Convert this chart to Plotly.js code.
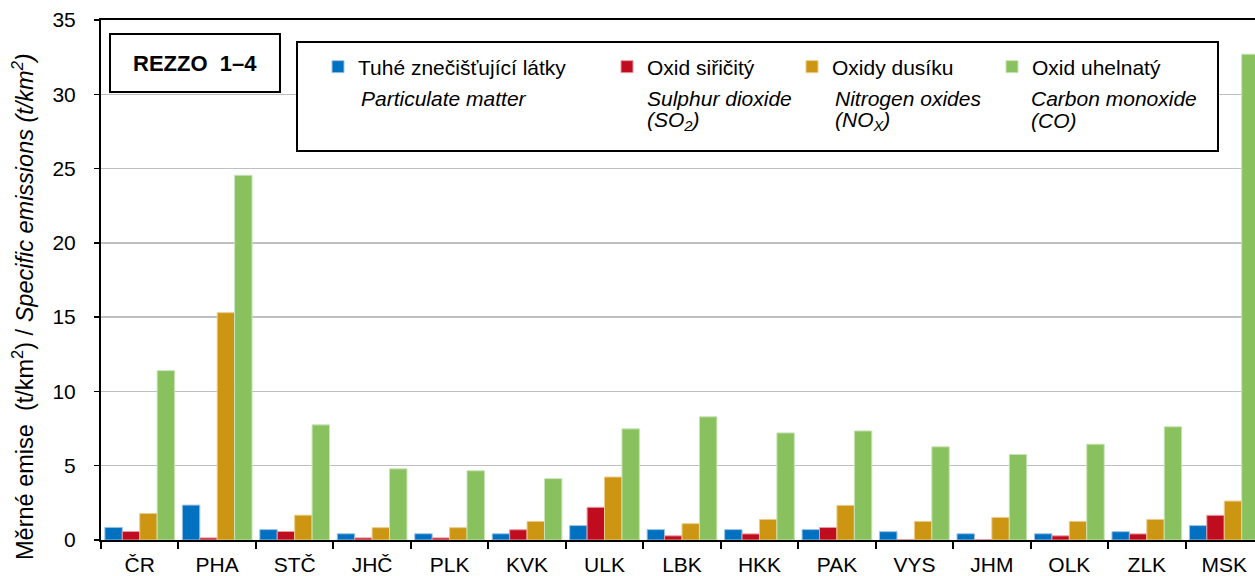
<!DOCTYPE html>
<html>
<head>
<meta charset="utf-8">
<script src="https://cdn.plot.ly/plotly-3.0.1.min.js"></script>
<style>
html, body { margin: 0; padding: 0; overflow: hidden; background: #fff; }
#chart { width: 1263px; height: 576px; }
</style>
</head>
<body>
<div id="chart"></div>
<script>
// ---- Data ----
var categories = ["ČR","PHA","STČ","JHČ","PLK","KVK","ULK","LBK","HKK","PAK","VYS","JHM","OLK","ZLK","MSK"];
var particulate = [0.85, 2.35, 0.70, 0.42, 0.42, 0.42, 0.97, 0.70, 0.70, 0.70, 0.56, 0.42, 0.42, 0.56, 0.97];
var sulphurDioxide = [0.57, 0.14, 0.57, 0.14, 0.14, 0.69, 2.20, 0.28, 0.41, 0.84, 0.03, 0.03, 0.28, 0.41, 1.66];
var nitrogenOxides = [1.78, 15.30, 1.67, 0.83, 0.83, 1.25, 4.24, 1.10, 1.38, 2.33, 1.25, 1.52, 1.25, 1.38, 2.62];
var carbonMonoxide = [11.40, 24.55, 7.75, 4.79, 4.66, 4.13, 7.48, 8.29, 7.21, 7.34, 6.27, 5.76, 6.45, 7.62, 32.70];

var namesCz = ["Tuhé znečišťující látky", "Oxid siřičitý", "Oxidy dusíku", "Oxid uhelnatý"];
var namesEn = ["Particulate matter", "Sulphur dioxide", "Nitrogen oxides", "Carbon monoxide"];
var namesEnSub = ["", "(SO<sub>2</sub>)", "(NO<sub>X</sub>)", "(CO)"];
var yTickValues = [0, 5, 10, 15, 20, 25, 30, 35];
var boxLabel = "REZZO\u00A0 1–4";
var yTitleCz = "Měrné emise\u00A0 (t/km<sup>2</sup>)";
var yTitleEn = "Specific emissions (t/km<sup>2</sup>)";

// ---- Styling ----
var colors = ["#0070C0", "#C00C1F", "#CC9612", "#88C15E"];
var edgeColors = ["#9CC3E6", "#E89AA2", "#EBCB8A", "#C9E3B6"];
var series = [particulate, sulphurDioxide, nitrogenOxides, carbonMonoxide];
var FONT = "Arial, 'Liberation Sans', sans-serif";

var W = 1263, H = 576, ML = 101, MR = 0, MT = 20, MB = 36;
var PW = W - ML - MR, PH = H - MT - MB;
function px(x) { return (x - ML) / PW; }
function py(y) { return (H - MB - y) / PH; }

var legendNames = ["legend", "legend2", "legend3", "legend4"];
var traces = series.map(function (vals, i) {
  return {
    type: "bar",
    x: categories,
    y: vals,
    name: namesCz[i],
    legend: legendNames[i],
    showlegend: true,
    marker: { color: colors[i], line: { color: edgeColors[i], width: 1 } },
    hoverinfo: "skip"
  };
});

// legend placement (symbol centre x, row centre y)
var legendPos = [[338, 67], [627, 67], [812, 67], [1012, 67]];
var enX = [359, 645, 833, 1029];

var layout = {
  width: W, height: H,
  showlegend: true,
  margin: { l: ML, r: MR, t: MT, b: MB, autoexpand: false },
  paper_bgcolor: "#fff", plot_bgcolor: "#fff",
  font: { family: FONT, size: 21, color: "#000" },
  barmode: "group",
  bargap: 0.1,
  bargroupgap: 0,
  xaxis: {
    type: "category",
    showline: true, linecolor: "#000", linewidth: 2, mirror: true,
    ticks: "outside", tickson: "boundaries", ticklen: 7, tickwidth: 2, tickcolor: "#000",
    ticklabelstandoff: 5,
    tickfont: { family: FONT, size: 21, color: "#000" },
    showgrid: false, fixedrange: true
  },
  yaxis: {
    range: [0, 35],
    tickvals: yTickValues,
    showline: true, linecolor: "#000", linewidth: 2,
    ticks: "outside", ticklen: 5, tickwidth: 1.5, tickcolor: "#000",
    ticklabelstandoff: 14,
    tickfont: { family: FONT, size: 21, color: "#000" },
    showgrid: true, gridcolor: "#BFBFBF", gridwidth: 1.3,
    zeroline: false, fixedrange: true
  },
  shapes: [
    { type: "rect", xref: "paper", yref: "paper", layer: "above",
      x0: px(110), x1: px(280), y0: py(34), y1: py(92),
      line: { color: "#000", width: 2 }, fillcolor: "#fff" },
    { type: "rect", xref: "paper", yref: "paper", layer: "above",
      x0: px(297), x1: px(1218), y0: py(42), y1: py(151),
      line: { color: "#000", width: 2 }, fillcolor: "#fff" }
  ],
  annotations: [
    { xref: "paper", yref: "paper", x: px(195), y: py(63), xanchor: "center", yanchor: "middle",
      text: "<b>" + boxLabel + "</b>", showarrow: false,
      font: { family: FONT, size: 22, color: "#000" } },
    { xref: "paper", yref: "paper", x: px(23), y: py(307), xanchor: "center", yanchor: "middle",
      textangle: -90, showarrow: false,
      text: yTitleCz + " / <i>" + yTitleEn + "</i>",
      font: { family: FONT, size: 23.5, color: "#000" } }
  ]
};

legendNames.forEach(function (ln, i) {
  layout[ln] = {
    visible: true,
    x: px(legendPos[i][0] - 20), y: py(legendPos[i][1]),
    xanchor: "left", yanchor: "middle",
    orientation: "h",
    bgcolor: "rgba(0,0,0,0)", borderwidth: 0,
    font: { family: FONT, size: 21, color: "#000" },
    itemclick: false, itemdoubleclick: false
  };
  layout.annotations.push({
    xref: "paper", yref: "paper", x: px(enX[i]), y: py(98), xanchor: "left", yanchor: "middle",
    text: "<i>" + namesEn[i] + "</i>", showarrow: false,
    font: { family: FONT, size: 21, color: "#000" }
  });
  if (namesEnSub[i]) {
    layout.annotations.push({
      xref: "paper", yref: "paper", x: px(enX[i]), y: py(121), xanchor: "left", yanchor: "middle",
      text: "<i>" + namesEnSub[i] + "</i>", showarrow: false,
      font: { family: FONT, size: 21, color: "#000" }
    });
  }
});

Plotly.newPlot("chart", traces, layout, { displayModeBar: false, staticPlot: true });
</script>
</body>
</html>
